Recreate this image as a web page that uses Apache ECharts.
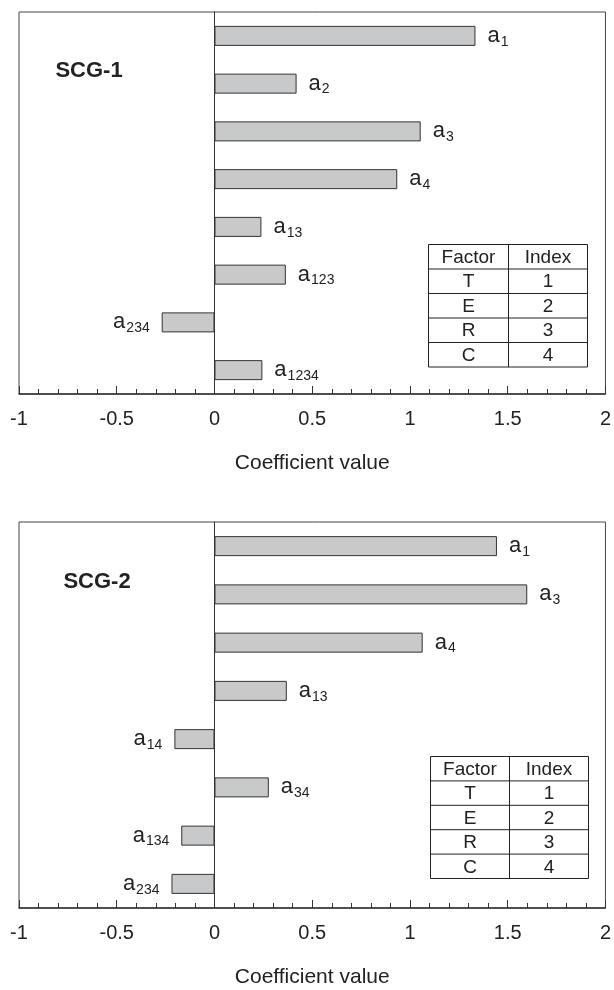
<!DOCTYPE html>
<html>
<head>
<meta charset="utf-8">
<script src="https://cdn.jsdelivr.net/npm/echarts/dist/echarts.min.js"></script>
<style>
html,body{margin:0;padding:0;background:#fff;}
#chart{width:614px;height:990px;}
</style>
</head>
<body>
<div id="chart"></div>
<script>
// ---- data ----
var panelTitles = ['SCG-1', 'SCG-2'];
var categories1 = ['a1', 'a2', 'a3', 'a4', 'a13', 'a123', 'a234', 'a1234'];
var values1 = [1.335, 0.42, 1.055, 0.935, 0.24, 0.365, -0.27, 0.245];
var categories2 = ['a1', 'a3', 'a4', 'a13', 'a14', 'a34', 'a134', 'a234'];
var values2 = [1.445, 1.60, 1.065, 0.37, -0.205, 0.278, -0.17, -0.22];
var xMin = -1, xMax = 2, xInterval = 0.5;
var axisName = 'Coefficient value';
var tableHeader = ['Factor', 'Index'];
var tableFactors = ['T', 'E', 'R', 'C'];
var tableIndices = ['1', '2', '3', '4'];

// ---- chart ----
var FONT = '"Liberation Sans", Arial, sans-serif';
var chart = echarts.init(document.getElementById('chart'), null, {renderer: 'canvas'});

var grids = [
  {left: 19, width: 588, top: 12, height: 382},
  {left: 19, width: 588, top: 522, height: 386}
];

function makeX(i) {
  return {
    type: 'value', gridIndex: i, min: xMin, max: xMax, interval: xInterval,
    name: axisName, nameLocation: 'middle', nameGap: 59,
    nameTextStyle: {fontFamily: FONT, fontSize: 21, color: '#222'},
    axisLine: {show: true, lineStyle: {color: '#333', width: 1.5}},
    axisTick: {show: true, inside: true, length: 8, lineStyle: {color: '#333', width: 1}},
    minorTick: {show: true, splitNumber: 5, length: 5, lineStyle: {color: '#333', width: 1}},
    splitLine: {show: false},
    axisLabel: {fontFamily: FONT, fontSize: 20, color: '#222', margin: 15}
  };
}
function makeY(i, cats) {
  return {
    type: 'category', gridIndex: i, data: cats, inverse: true,
    axisLine: {show: true, onZero: true, lineStyle: {color: '#333', width: 1}},
    axisTick: {show: false}, axisLabel: {show: false}, splitLine: {show: false}
  };
}
var richLabel = {
  b: {fontFamily: FONT, fontSize: 22, lineHeight: 22, color: '#222', verticalAlign: 'top'},
  s: {fontFamily: FONT, fontSize: 14, lineHeight: 14, color: '#222', verticalAlign: 'top', padding: [10, 0, 0, 1]}
};
function makeSeries(i, cats, vals) {
  return {
    type: 'bar', xAxisIndex: i, yAxisIndex: i, barWidth: 20,
    itemStyle: {color: '#c8c9cb', borderColor: '#333', borderWidth: 1},
    label: {
      show: true, distance: 12,
      formatter: function (p) { return '{b|a}{s|' + p.name.slice(1) + '}'; },
      rich: richLabel
    },
    data: vals.map(function (v) {
      return {value: v, label: {position: v < 0 ? 'left' : 'right'}};
    }),
    animation: false
  };
}

function makeTable(x0, x1, xd, y0, rowH) {
  var els = [];
  var rows = [tableHeader].concat(tableFactors.map(function (f, k) { return [f, tableIndices[k]]; }));
  var y1 = y0 + rowH * rows.length;
  els.push({type: 'rect', shape: {x: x0, y: y0, width: x1 - x0, height: y1 - y0},
            style: {fill: '#fff', stroke: '#222', lineWidth: 1}});
  els.push({type: 'line', shape: {x1: xd, y1: y0, x2: xd, y2: y1}, style: {stroke: '#222', lineWidth: 1}});
  for (var r = 1; r < rows.length; r++) {
    els.push({type: 'line', shape: {x1: x0, y1: y0 + r * rowH, x2: x1, y2: y0 + r * rowH},
              style: {stroke: '#222', lineWidth: 1}});
  }
  rows.forEach(function (row, r) {
    var cy = y0 + r * rowH + rowH / 2 + 1;
    els.push({type: 'text', x: (x0 + xd) / 2, y: cy, style: {text: row[0], fontFamily: FONT, fontSize: 19,
              fill: '#222', align: 'center', verticalAlign: 'middle'}});
    els.push({type: 'text', x: (xd + x1) / 2, y: cy, style: {text: row[1], fontFamily: FONT, fontSize: 19,
              fill: '#222', align: 'center', verticalAlign: 'middle'}});
  });
  return els;
}

var graphics = [];
graphics = graphics.concat(makeTable(428.5, 587.5, 508.5, 244.5, 24.5));
graphics = graphics.concat(makeTable(430.5, 588.5, 509.5, 756.5, 24.4));
graphics.push({type: 'text', x: 89, y: 71, style: {text: panelTitles[0], fontFamily: FONT, fontSize: 22,
               fontWeight: 'bold', fill: '#222', align: 'center', verticalAlign: 'middle'}});
graphics.push({type: 'text', x: 97, y: 582, style: {text: panelTitles[1], fontFamily: FONT, fontSize: 22,
               fontWeight: 'bold', fill: '#222', align: 'center', verticalAlign: 'middle'}});

chart.setOption({
  animation: false,
  backgroundColor: '#fff',
  grid: grids.map(function (g) {
    return Object.assign({show: true, borderColor: '#444', borderWidth: 1, backgroundColor: 'transparent', containLabel: false}, g);
  }),
  xAxis: [makeX(0), makeX(1)],
  yAxis: [makeY(0, categories1), makeY(1, categories2)],
  series: [makeSeries(0, categories1, values1), makeSeries(1, categories2, values2)],
  graphic: graphics
});
</script>
</body>
</html>
